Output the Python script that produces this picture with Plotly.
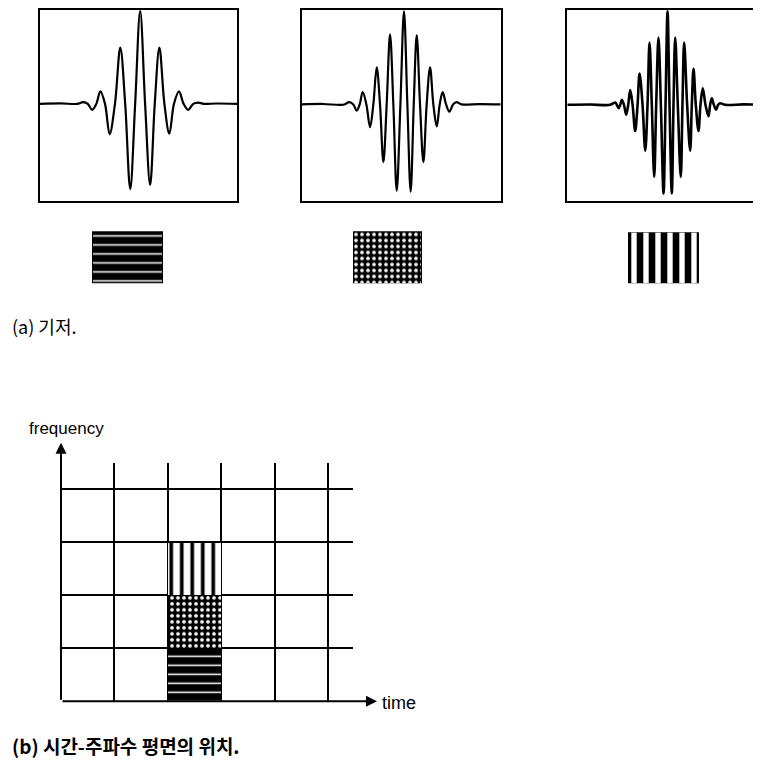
import plotly.graph_objects as go

# ---------------- data ----------------
# wavelet 1 (low frequency): time (normalised) and amplitude
w1_t = [-1.0, -0.79, -0.623, -0.562, -0.515, -0.471, -0.428, -0.387, -0.340, -0.293, -0.239,
        -0.185, -0.135, -0.084, -0.034, 0.017, 0.067, 0.118, 0.165, 0.212, 0.263, 0.313,
        0.360, 0.411, 0.458, 0.505, 0.556, 0.606, 0.663, 0.791, 1.0]
w1_a = [0.0, 0.005, 0.0, 0.018, 0.0, -0.063, 0.0, 0.134, 0.0, -0.324, 0.0,
        0.599, 0.0, -0.908, 0.0, 0.99, 0.0, -0.863, 0.0, 0.599, 0.0, -0.317,
        0.0, 0.134, 0.0, -0.063, 0.0, 0.014, 0.0, 0.004, 0.0]

# wavelet 2 (middle frequency)
w2_t = [-1.0, -0.784, -0.581, -0.521, -0.481, -0.447, -0.417, -0.387, -0.350, -0.313, -0.280,
        -0.246, -0.213, -0.179, -0.146, -0.112, -0.079, -0.045, -0.008, 0.028, 0.062,
        0.095, 0.126, 0.156, 0.189, 0.223, 0.256, 0.290, 0.323, 0.357, 0.387, 0.417,
        0.451, 0.484, 0.521, 0.558, 0.608, 0.792, 1.0]
w2_a = [0.0, 0.005, -0.003, 0.024, 0.0, -0.066, 0.0, 0.132, 0.0, -0.240, 0.0,
        0.394, 0.0, -0.610, 0.0, 0.742, 0.0, -0.913, 0.0, 0.986, 0.0,
        -0.923, 0.0, 0.735, 0.0, -0.610, 0.0, 0.394, 0.0, -0.233, 0.0, 0.132,
        0.0, -0.077, 0.0, 0.024, 0.0, 0.004, 0.0]

# wavelet 3 (high frequency)
w3_t = [-1.0, -0.769, -0.569, -0.518, -0.502, -0.485, -0.468, -0.452, -0.431, -0.408, -0.388,
        -0.368, -0.344, -0.318, -0.294, -0.274, -0.244, -0.217, -0.194, -0.174, -0.151,
        -0.127, -0.107, -0.084, -0.060, -0.033, -0.013, 0.007, 0.027, 0.050, 0.067,
        0.084, 0.110, 0.140, 0.157, 0.174, 0.204, 0.234, 0.251, 0.268, 0.291,
        0.318, 0.338, 0.361, 0.388, 0.418, 0.435, 0.452, 0.472, 0.495, 0.515,
        0.535, 0.585, 0.769, 0.946]
w3_a = [0.0, 0.003, 0.0, 0.024, 0.0, -0.035, 0.0, 0.052, 0.0, -0.104, 0.0,
        0.156, 0.0, -0.277, 0.0, 0.329, 0.0, -0.484, 0.0, 0.657, 0.0,
        -0.761, 0.0, 0.709, 0.0, -0.934, 0.0, 0.986, 0.0, -0.934, 0.0,
        0.709, 0.0, -0.761, 0.0, 0.657, 0.0, -0.484, 0.0, 0.381, 0.0,
        -0.277, 0.0, 0.173, 0.0, -0.121, 0.0, 0.069, 0.0, -0.052, 0.0,
        0.017, 0.0, 0.004, 0.0]

# time-frequency plane: cell (time index, frequency band) occupied by each basis
tile_time = [2.5, 2.5, 2.5]
tile_height = [1, 1, 1]
tile_names = ["low", "mid", "high"]
time_max = 5.47
freq_max = 4.5
time_arrow_end = 5.92
freq_arrow_end = 4.88

caption_a = "(a) 기저."
caption_b = "(b) 시간-주파수 평면의 위치."

# ---------------- figure ----------------
OFF = 8                       # page body margin of the html page
W, H = 761 - OFF, 762 - OFF   # figure size so it fits the window
fig = go.Figure()

def px_x(a, b):
    return [(a - OFF) / W, (b - OFF) / W]

def px_y(top, bottom):
    return [1 - (bottom - OFF) / H, 1 - (top - OFF) / H]

def pp(x, y):
    return (x - OFF) / W, 1 - (y - OFF) / H

wave_line = dict(color="black", width=2.2, shape="spline", smoothing=1.0)
fig.add_trace(go.Scatter(x=w1_t, y=w1_a, mode="lines", line=wave_line, xaxis="x", yaxis="y"))
fig.add_trace(go.Scatter(x=w2_t, y=w2_a, mode="lines", line=wave_line, xaxis="x2", yaxis="y2"))
fig.add_trace(go.Scatter(x=w3_t, y=w3_a, mode="lines",
                         line=dict(color="black", width=2.6, shape="spline", smoothing=1.0),
                         xaxis="x3", yaxis="y3"))

# pattern swatches
patt_low = dict(shape="-", fgcolor="white", bgcolor="black", size=9, solidity=0.17, fgopacity=1)
patt_mid = dict(shape=".", fgcolor="white", bgcolor="black", size=6, solidity=0.3, fgopacity=1)
patt_high = dict(shape="|", fgcolor="white", bgcolor="black", size=12, solidity=0.45, fgopacity=1)
patt_high_grid = dict(shape="|", fgcolor="black", bgcolor="white", size=10.5, solidity=0.35, fgopacity=1)

for i, patt in zip([5, 6, 7], [patt_low, patt_mid, patt_high]):
    fig.add_trace(go.Bar(x=[0], y=[1], width=1,
                         marker=dict(color="black", pattern=patt,
                                     line=dict(color="black", width=1.5)),
                         xaxis=f"x{i}", yaxis=f"y{i}"))

# tiles in time-frequency plane (stacked)
for k, patt in enumerate([patt_low, patt_mid, patt_high_grid]):
    fig.add_trace(go.Bar(x=[tile_time[k]], y=[tile_height[k]], width=1, name=tile_names[k],
                         marker=dict(color="black", pattern=patt,
                                     line=dict(color="black", width=1.2)),
                         xaxis="x4", yaxis="y4"))

hidden = dict(showgrid=False, zeroline=False, showticklabels=False, ticks="")
frame = dict(showline=True, linecolor="black", linewidth=2, mirror=True, **hidden)

layout = dict(
    width=W, height=H, margin=dict(l=0, r=0, t=0, b=0),
    paper_bgcolor="white", plot_bgcolor="white", showlegend=False,
    barmode="stack",
    xaxis=dict(domain=px_x(40, 237), range=[-1, 1], **frame),
    yaxis=dict(domain=px_y(8, 200), range=[-1.04, 1.0], **frame),
    xaxis2=dict(domain=px_x(301.7, 500.7), range=[-1, 1], anchor="y2", **frame),
    yaxis2=dict(domain=px_y(8, 199.3), range=[-1.02, 1.0], anchor="x2", **frame),
    xaxis3=dict(domain=[(567.3 - OFF) / W, 1.0], range=[-1, 0.946], anchor="y3", **frame),
    yaxis3=dict(domain=px_y(8, 200), range=[-1.02, 1.0], anchor="x3",
                showline=True, linecolor="black", linewidth=2, mirror=False, **hidden),
    xaxis4=dict(domain=px_x(61, 353), range=[0, time_max], anchor="y4",
                showgrid=True, gridcolor="black", gridwidth=1.5, dtick=1, tick0=0,
                zeroline=False, showticklabels=False, ticks=""),
    yaxis4=dict(domain=px_y(462, 701), range=[0, freq_max], anchor="x4",
                showgrid=True, gridcolor="black", gridwidth=1.5, dtick=1, tick0=0,
                zeroline=False, showticklabels=False, ticks=""),
    xaxis5=dict(domain=px_x(92, 163), range=[-0.5, 0.5], anchor="y5", visible=False),
    yaxis5=dict(domain=px_y(230, 282), range=[0, 1], anchor="x5", visible=False),
    xaxis6=dict(domain=px_x(353, 422), range=[-0.5, 0.5], anchor="y6", visible=False),
    yaxis6=dict(domain=px_y(230, 282), range=[0, 1], anchor="x6", visible=False),
    xaxis7=dict(domain=px_x(628, 699), range=[-0.5, 0.5], anchor="y7", visible=False),
    yaxis7=dict(domain=px_y(231, 282), range=[0, 1], anchor="x7", visible=False),
)
fig.update_layout(**layout)

fx, fy = pp(66, 428)
tx, ty = pp(380, 703)
ax_, ay_ = pp(10, 325)
bx, by = pp(10, 745)
anns = [
    # axes arrows
    dict(x=time_arrow_end, y=0, ax=0, ay=0, xref="x4", yref="y4", axref="x4", ayref="y4",
         text="", showarrow=True, arrowhead=2, arrowsize=1.1, arrowwidth=2, arrowcolor="black"),
    dict(x=0, y=freq_arrow_end, ax=0, ay=0, xref="x4", yref="y4", axref="x4", ayref="y4",
         text="", showarrow=True, arrowhead=2, arrowsize=1.1, arrowwidth=2, arrowcolor="black"),
    dict(x=fx, y=fy, xref="paper", yref="paper", text="frequency",
         showarrow=False, xanchor="center", yanchor="middle",
         font=dict(family="Liberation Sans", size=17, color="black")),
    dict(x=tx, y=ty, xref="paper", yref="paper", text="time",
         showarrow=False, xanchor="left", yanchor="middle",
         font=dict(family="Liberation Sans", size=18, color="black")),
    dict(x=ax_, y=ay_, xref="paper", yref="paper", text=caption_a,
         showarrow=False, xanchor="left", yanchor="middle",
         font=dict(family="Noto Sans CJK KR", size=18, color="black")),
    dict(x=bx, y=by, xref="paper", yref="paper", text="<b>" + caption_b + "</b>",
         showarrow=False, xanchor="left", yanchor="middle",
         font=dict(family="Noto Sans CJK KR", size=19, color="black")),
]
fig.update_layout(annotations=anns)

fig.write_html("out.html")
